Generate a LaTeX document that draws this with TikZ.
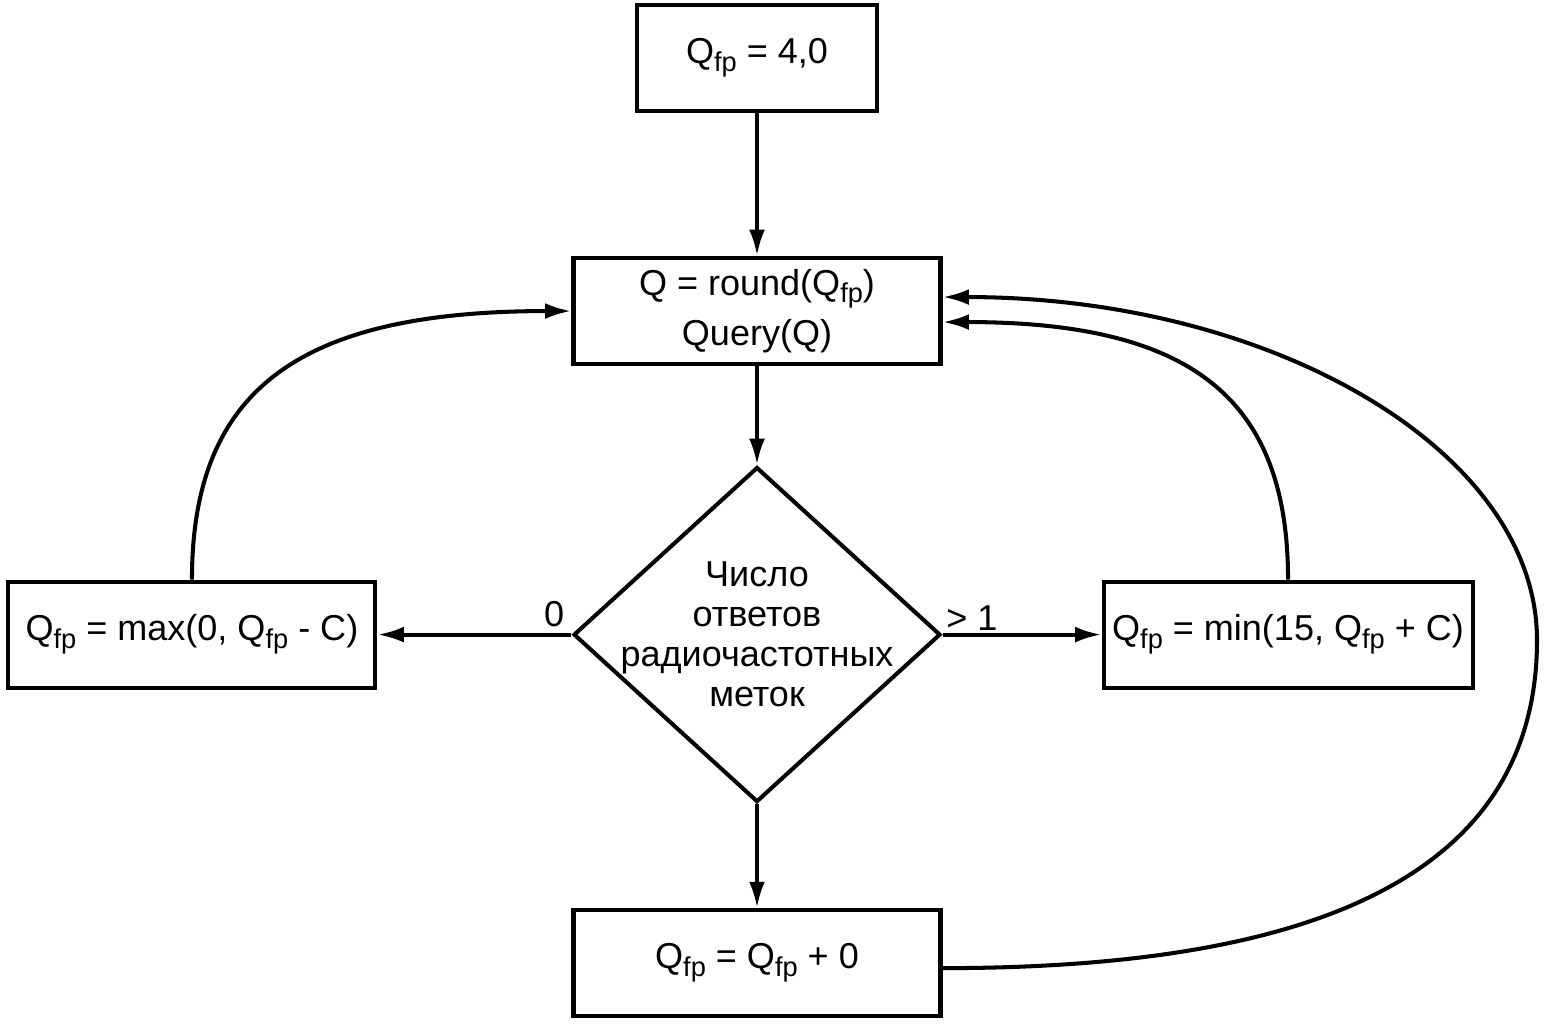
\documentclass[tikz,border=0pt]{standalone}
\usepackage{fontspec}
\setmainfont{Liberation Sans}
\usetikzlibrary{positioning, arrows.meta, shapes.geometric}
\newcommand{\Qfp}{Q\raisebox{-0.22em}{\fontsize{15.5}{15.5}\selectfont fp}}

\begin{document}
\begin{tikzpicture}[node distance=2cm, >={Latex[length=15pt, width=9pt]}, line width=2.3pt, font=\fontsize{20.5}{28.8}\selectfont]
    % Стили блоков
    \tikzstyle{block} = [draw, rectangle, minimum height=2.12cm, minimum width=7.34cm, inner sep=0pt]
    \tikzstyle{decision} = [draw, diamond, minimum width=7.34cm, minimum height=6.7cm, inner sep=0pt]

    \useasboundingbox (0,0) rectangle (30.88,-20.48);

    % Узлы
    \node [block, minimum width=4.8cm] (init) at (15.14,-1.16) {\Qfp{} = 4,0};
    \node [block, below=2.86cm of init, align=center] (query) {Q = round(\Qfp)\\Query(Q)};
    \node [decision, below=1.98cm of query] (dec) {};
    \node [align=center, font=\fontsize{20.5}{22.7}\selectfont] (dectext) at (dec) {Число\\ответов\\радиочастотных\\меток};
    \node [block, left=3.88cm of dec] (dec0) {\Qfp{} = max(0, \Qfp{} - C)};
    \node [block, right=3.18cm of dec, minimum width=7.38cm] (inc) {\Qfp{} = min(15, \Qfp{} + C)};
    \node [block, below=2.08cm of dec] (keep) {\Qfp{} = \Qfp{} + 0};
    \coordinate (far) at (30.74,-12.8);

    % Связи
    \draw [->] (init) -- (query);
    \draw [->] (query) -- (dec);
    \draw [->] (dec) -- (keep);
    \draw [->] (dec.west) -- node [pos=0, above left, inner sep=3pt] {0} (dec0);
    \draw [->] (dec.east) -- node [pos=0, above right, inner sep=1pt] {> 1} (inc);

    % Обратные дуги
    \draw [->] (dec0.north) .. controls +(0,3.82) and +(-5.42,0) .. (query.west);
    \draw [->] (inc.north) .. controls +(0,3.66) and +(4.93,0) .. ([yshift=-0.22cm]query.east);
    \draw [->] ([yshift=-0.1cm]keep.east) .. controls +(6.72,0) and +(0,-5.06) .. (far)
        .. controls +(0,3.78) and +(6.6,0) .. ([yshift=0.28cm]query.east);
\end{tikzpicture}
\end{document}
